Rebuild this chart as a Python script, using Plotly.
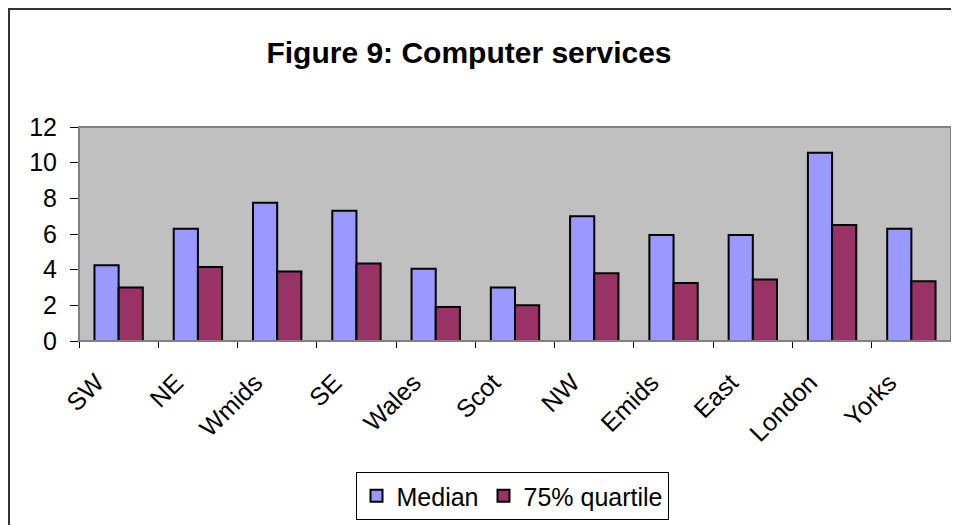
import plotly.graph_objects as go

regions = ["SW", "NE", "Wmids", "SE", "Wales", "Scot", "NW", "Emids", "East", "London", "Yorks"]
median = [4.25, 6.3, 7.75, 7.3, 4.05, 3.0, 7.0, 5.95, 5.95, 10.55, 6.3]
quartile75 = [3.0, 4.15, 3.9, 4.35, 1.9, 2.0, 3.8, 3.25, 3.45, 6.5, 3.35]
y_ticks = [0, 2, 4, 6, 8, 10, 12]

# page body has an 8px margin, so work in screen coords and offset by 8
OFF = 8
W, H = 959 - OFF, 525 - OFF
L = 79 - OFF
T = 127 - OFF
R = W - (951 - OFF)
B = H - (341 - OFF)
pw, ph = W - L - R, H - T - B


def px(x):
    return (x - OFF - L) / pw


def py(y):
    return (H - B - (y - OFF)) / ph


FONT = "Liberation Sans, Arial, sans-serif"

fig = go.Figure()
fig.add_trace(go.Bar(x=regions, y=median, name="Median",
                     marker=dict(color="#9999FF", line=dict(color="#000000", width=2))))
fig.add_trace(go.Bar(x=regions, y=quartile75, name="75% quartile",
                     marker=dict(color="#993366", line=dict(color="#000000", width=2))))

fig.update_layout(
    width=W, height=H,
    margin=dict(l=L, r=R, t=T, b=B, pad=0, autoexpand=False),
    paper_bgcolor="white",
    plot_bgcolor="#C0C0C0",
    barmode="group", bargap=0.39, bargroupgap=0,
    font=dict(family=FONT, size=25, color="black"),
    title=dict(text="<b>Figure 9: Computer services</b>", x=px(469), xref="paper",
               xanchor="center", y=1 - (52 - OFF) / H, yanchor="middle",
               font=dict(family=FONT, size=30, color="black")),
    showlegend=True,
    legend=dict(orientation="h", x=px(512), xanchor="center", y=py(520), yanchor="bottom",
                bordercolor="#000000", borderwidth=1, bgcolor="white",
                font=dict(family=FONT, size=25), traceorder="normal"),
    shapes=[
        dict(type="rect", xref="paper", yref="paper", x0=0, x1=1, y0=0, y1=1,
             line=dict(color="#808080", width=2), fillcolor="rgba(0,0,0,0)", layer="above"),
        dict(type="rect", xref="paper", yref="paper", x0=px(9), x1=px(975), y0=py(9), y1=py(540),
             line=dict(color="#333333", width=2), fillcolor="rgba(0,0,0,0)"),
    ],
)

fig.update_xaxes(type="category", showgrid=False, showline=True, linecolor="#000000", linewidth=1,
                 ticks="outside", tickson="boundaries", ticklen=6, tickcolor="#000000",
                 tickangle=-45, tickfont=dict(family=FONT, size=25), ticklabelshift=-22,
                 ticklabelstandoff=16, zeroline=False, automargin=False)
fig.update_yaxes(range=[0, 12], tickvals=y_ticks, showgrid=False, showline=True,
                 linecolor="#000000", linewidth=1, ticks="outside", ticklen=8, tickcolor="#000000",
                 tickfont=dict(family=FONT, size=25), ticklabelstandoff=8, zeroline=False,
                 automargin=False)

fig.write_html("out.html")
